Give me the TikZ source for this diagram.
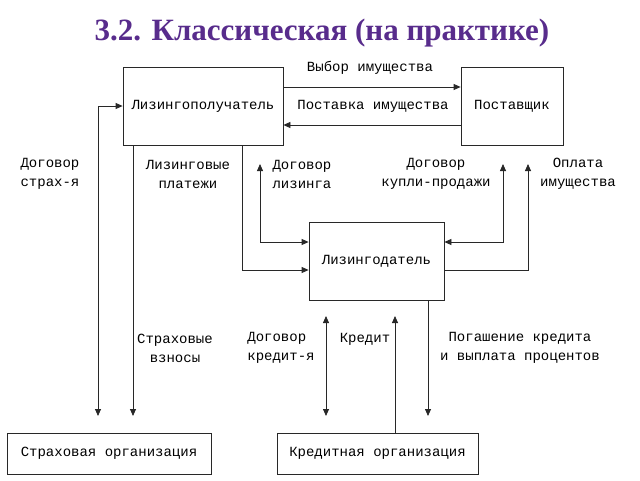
\documentclass[tikz,border=0pt]{standalone}
\usepackage{fontspec}
\setmainfont{Liberation Mono}
\newfontfamily\titlef{Liberation Serif}
\usetikzlibrary{arrows.meta}
\definecolor{titlecol}{RGB}{88,44,140}
\definecolor{linecol}{RGB}{40,40,40}
\tikzset{
  box/.style={draw=linecol, line width=0.8pt, inner sep=0pt, font=\fontsize{14}{19}\selectfont},
  lbl/.style={font=\fontsize{14}{19}\selectfont, align=center, inner sep=0pt},
  conn/.style={draw=linecol, line width=0.8pt, >={Triangle[length=7pt,width=6pt]}},
}
\begin{document}
\begin{tikzpicture}[x=1pt,y=-1pt]
\useasboundingbox (0,0) rectangle (640,480);
\fill[white] (0,0) rectangle (640,480);
% title
\node[font=\titlef\bfseries\fontsize{31}{35}\selectfont, text=titlecol] (title) at (322,33) {3.2. Классическая (на практике)};
% boxes
\node[box, minimum width=160pt, minimum height=78pt] (lp) at (203,106) {Лизингополучатель};
\node[box, minimum width=102pt, minimum height=78pt] (post) at (512,106) {Поставщик};
\node[box, minimum width=135pt, minimum height=78pt] (ld) at (376.5,261) {Лизингодатель};
\node[box, minimum width=204pt, minimum height=41pt] (strah) at (109,453.5) {Страховая организация};
\node[box, minimum width=201pt, minimum height=41pt] (kred) at (377.5,453.5) {Кредитная организация};
% free ends
\coordinate (a1) at (98,416);
\coordinate (b1) at (133,416);
\coordinate (c1) at (242,0);
\coordinate (d1) at (260,164);
\coordinate (d2) at (503,164);
\coordinate (d3) at (528,164);
\coordinate (e1) at (326,316);
\coordinate (e2) at (326,416);
\coordinate (e3) at (395,316);
\coordinate (e4) at (428,416);
% connectors
\draw[conn,->] ([yshift=19pt]lp.east) -- ([yshift=19pt]post.west);
\draw[conn,->] ([yshift=-19pt]post.west) -- ([yshift=-19pt]lp.east);
\draw[conn,<->] (a1) |- (lp.west);
\draw[conn,->] (lp.south -| b1) -- (b1);
\draw[conn,->] (lp.south -| c1) |- ([yshift=-9pt]ld.west);
\draw[conn,<->] (d1) |- ([yshift=19pt]ld.west);
\draw[conn,<->] (d2) |- ([yshift=19pt]ld.east);
\draw[conn,<-] (d3) |- ([yshift=-9pt]ld.east);
\draw[conn,<->] (e1) -- (e2);
\draw[conn,->] (kred.north -| e3) -- (e3);
\draw[conn,->] (ld.south -| e4) -- (e4);
% labels
\node[lbl] (l1) at (370,68) {Выбор имущества};
\node[lbl] (l2) at (373,106) {Поставка имущества};
\node[lbl] (l3) at (50,174) {Договор\\страх-я};
\node[lbl] (l4) at (188,174) {Лизинговые\\платежи};
\node[lbl] (l5) at (302,174) {Договор\\лизинга};
\node[lbl] (l6) at (436,174) {Договор\\купли-продажи};
\node[lbl] (l7) at (578,174) {Оплата\\имущества};
\node[lbl] (l8) at (175,348) {Страховые\\взносы};
\node[lbl, align=left] (l9) at (281,348) {Договор\\кредит-я};
\node[lbl] (l10) at (365,339) {Кредит};
\node[lbl] (l11) at (520,348) {Погашение кредита\\и выплата процентов};
\end{tikzpicture}
\end{document}
